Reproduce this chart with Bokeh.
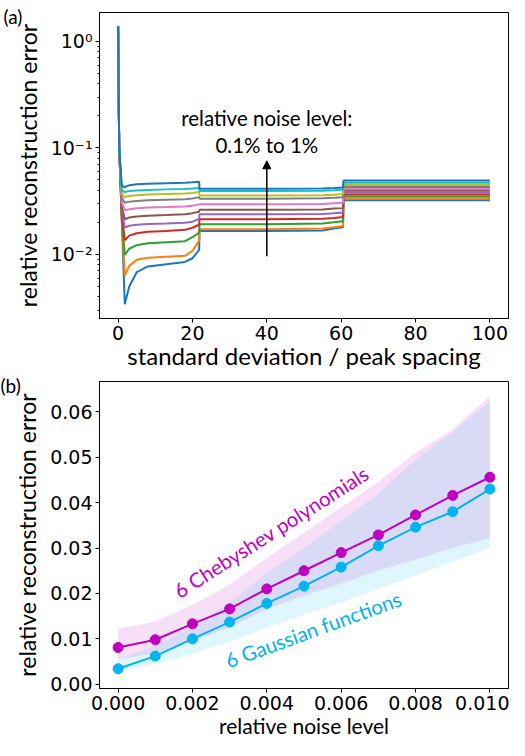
from bokeh.plotting import figure
from bokeh.layouts import column
from bokeh.models import FixedTicker, Label, Arrow, NormalHead, PrintfTickFormatter, Range1d, Title
from bokeh.embed import file_html
from bokeh.resources import INLINE

# ---------------- panel (a) data ----------------
sd_spacing = [0, 0.3, 1.0, 1.8, 3, 5, 8, 13, 18, 20, 21.8, 21.9, 40, 55, 58, 60.5, 60.6, 100]
err_n0 = [1.4, 0.10, 0.021, 0.0034, 0.0050, 0.0068, 0.0077, 0.0081, 0.0085, 0.0092, 0.0110, 0.0166, 0.0166, 0.0168, 0.0175, 0.0180, 0.0322, 0.0322]
err_n1 = [1.4, 0.10, 0.021, 0.0063, 0.0078, 0.0089, 0.0093, 0.0095, 0.0097, 0.0108, 0.0135, 0.0172, 0.0172, 0.0175, 0.0180, 0.0185, 0.0335, 0.0335]
err_n2 = [1.4, 0.10, 0.022, 0.0099, 0.0113, 0.0122, 0.0127, 0.0130, 0.0133, 0.0145, 0.0160, 0.0192, 0.0192, 0.0195, 0.0200, 0.0205, 0.0350, 0.0350]
err_n3 = [1.4, 0.10, 0.024, 0.0136, 0.0150, 0.0158, 0.0163, 0.0166, 0.0170, 0.0178, 0.0190, 0.0214, 0.0214, 0.0216, 0.0220, 0.0225, 0.0365, 0.0365]
err_n4 = [1.4, 0.10, 0.026, 0.0179, 0.0186, 0.0190, 0.0193, 0.0195, 0.0198, 0.0203, 0.0215, 0.0238, 0.0238, 0.0240, 0.0244, 0.0248, 0.0380, 0.0380]
err_n5 = [1.4, 0.10, 0.028, 0.0214, 0.0222, 0.0227, 0.0231, 0.0234, 0.0238, 0.0244, 0.0252, 0.0262, 0.0262, 0.0264, 0.0270, 0.0272, 0.0395, 0.0395]
err_n6 = [1.4, 0.10, 0.031, 0.0260, 0.0266, 0.0271, 0.0275, 0.0278, 0.0282, 0.0287, 0.0295, 0.0295, 0.0295, 0.0297, 0.0302, 0.0306, 0.0412, 0.0412]
err_n7 = [1.4, 0.10, 0.034, 0.0306, 0.0313, 0.0318, 0.0322, 0.0326, 0.0330, 0.0335, 0.0345, 0.0334, 0.0334, 0.0336, 0.0340, 0.0345, 0.0430, 0.0430]
err_n8 = [1.4, 0.10, 0.037, 0.0346, 0.0354, 0.0360, 0.0365, 0.0370, 0.0374, 0.0378, 0.0385, 0.0358, 0.0358, 0.0360, 0.0364, 0.0370, 0.0448, 0.0448]
err_n9 = [1.4, 0.10, 0.040, 0.0385, 0.0393, 0.0398, 0.0403, 0.0408, 0.0412, 0.0416, 0.0420, 0.0394, 0.0394, 0.0396, 0.0400, 0.0405, 0.0470, 0.0470]
err_n10 = [1.4, 0.10, 0.044, 0.0430, 0.0445, 0.0455, 0.0460, 0.0465, 0.0470, 0.0475, 0.0480, 0.0414, 0.0414, 0.0416, 0.0420, 0.0425, 0.0495, 0.0495]
curves_a = [err_n0, err_n1, err_n2, err_n3, err_n4, err_n5, err_n6, err_n7, err_n8, err_n9, err_n10]
tab10 = ["#1f77b4", "#ff7f0e", "#2ca02c", "#d62728", "#9467bd", "#8c564b",
         "#e377c2", "#7f7f7f", "#bcbd22", "#17becf", "#1f77b4"]
xticks_a = [0, 20, 40, 60, 80, 100]

# ---------------- panel (b) data ----------------
noise = [0.000, 0.001, 0.002, 0.003, 0.004, 0.005, 0.006, 0.007, 0.008, 0.009, 0.010]
cheb_mean = [0.0081, 0.0098, 0.0133, 0.0166, 0.0210, 0.0250, 0.0290, 0.0329, 0.0373, 0.0416, 0.0456]
cheb_hi = [0.0122, 0.0138, 0.0175, 0.0220, 0.0278, 0.0334, 0.0390, 0.0446, 0.0510, 0.0562, 0.0635]
cheb_lo = [0.0055, 0.0068, 0.0095, 0.0125, 0.0165, 0.0195, 0.0222, 0.0250, 0.0275, 0.0300, 0.0322]
gauss_mean = [0.0034, 0.0062, 0.0100, 0.0137, 0.0178, 0.0216, 0.0258, 0.0305, 0.0346, 0.0380, 0.0430]
gauss_hi = [0.0055, 0.0085, 0.0125, 0.0180, 0.0245, 0.0300, 0.0360, 0.0420, 0.0495, 0.0556, 0.0623]
gauss_lo = [0.0028, 0.0044, 0.0067, 0.0093, 0.0125, 0.0153, 0.0180, 0.0210, 0.0240, 0.0270, 0.0300]
xticks_b = [0.000, 0.002, 0.004, 0.006, 0.008, 0.010]
yticks_b = [0.00, 0.01, 0.02, 0.03, 0.04, 0.05, 0.06]

TICK_FONT = "DejaVu Sans"
LABEL_FONT = "Lato"
MAGENTA = "#BF00BF"
CYAN = "#00B4F0"


def style(p):
    p.grid.visible = False
    p.outline_line_color = "black"
    p.outline_line_width = 1
    for ax in p.axis:
        ax.axis_line_color = "black"
        ax.major_tick_out = 4
        ax.major_tick_in = 0
        ax.minor_tick_out = 2
        ax.minor_tick_in = 0
        ax.major_tick_line_color = "black"
        ax.minor_tick_line_color = "black"
        ax.major_label_text_font = TICK_FONT
        ax.major_label_text_font_size = "19px"
        ax.major_label_text_color = "black"
        ax.axis_label_text_font = LABEL_FONT
        ax.axis_label_text_font_size = "23px"
        ax.axis_label_text_font_style = "normal"
        ax.axis_label_text_color = "black"
        ax.major_label_standoff = 3


def panel_tag(p, text, offset):
    p.add_layout(Title(text=text, align="left", vertical_align="bottom", offset=offset,
                       standoff=-30, text_font=LABEL_FONT, text_font_size="19px",
                       text_font_style="normal", text_color="black"), "above")


# ---------------- panel (a) ----------------
p1 = figure(width=509, height=372, y_axis_type="log",
            x_range=Range1d(-5, 105), y_range=Range1d(0.0025, 1.87),
            output_backend="svg", toolbar_location=None,
            min_border_left=96, min_border_right=1, min_border_top=12, min_border_bottom=10)
style(p1)
p1.xaxis.axis_label_text_font_size = "24px"
for ys, c in zip(curves_a, tab10):
    p1.line(sd_spacing, ys, line_color=c, line_width=2)

p1.xaxis.ticker = FixedTicker(ticks=xticks_a)
p1.xaxis.minor_tick_line_color = None
minor_a = [m * 10.0 ** e for e in (-3, -2, -1, 0) for m in range(2, 10)]
p1.yaxis.ticker = FixedTicker(ticks=[0.01, 0.1, 1.0], minor_ticks=minor_a)
p1.yaxis.major_label_overrides = {0.01: "10⁻²", 0.1: "10⁻¹", 1.0: "10⁰"}
p1.xaxis.axis_label = "standard deviation / peak spacing"
p1.yaxis.axis_label = "relative reconstruction error"
p1.xaxis.axis_label_standoff = -2
p1.yaxis.axis_label_standoff = 6

p1.add_layout(Arrow(end=NormalHead(size=8, fill_color="black", line_color="black"),
                    x_start=40, y_start=0.0096, x_end=40, y_end=0.0757,
                    line_color="black", line_width=1.5))
p1.add_layout(Label(x=40, y=0.19, text="relative noise level:", text_align="center",
                    text_baseline="middle", text_font=LABEL_FONT, text_font_size="20.5px",
                    text_color="black"))
p1.add_layout(Label(x=40, y=0.107, text="0.1% to 1%", text_align="center",
                    text_baseline="middle", text_font=LABEL_FONT, text_font_size="20.5px",
                    text_color="black"))
panel_tag(p1, "(a)", -96)

# ---------------- panel (b) ----------------
p2 = figure(width=509, height=368,
            x_range=Range1d(-0.0005, 0.0105), y_range=Range1d(-0.00094, 0.0667),
            output_backend="svg", toolbar_location=None,
            min_border_left=99, min_border_right=1, min_border_top=9, min_border_bottom=10)
style(p2)
p2.xaxis.axis_label_text_font_size = "21px"
p2.varea(x=noise, y1=cheb_lo, y2=cheb_hi, fill_color=MAGENTA, fill_alpha=0.12)
p2.varea(x=noise, y1=gauss_lo, y2=gauss_hi, fill_color=CYAN, fill_alpha=0.12)
p2.line(noise, cheb_mean, line_color=MAGENTA, line_width=2)
p2.scatter(noise, cheb_mean, size=10, fill_color=MAGENTA, line_color=MAGENTA)
p2.line(noise, gauss_mean, line_color=CYAN, line_width=2)
p2.scatter(noise, gauss_mean, size=10, fill_color=CYAN, line_color=CYAN)

p2.xaxis.ticker = FixedTicker(ticks=xticks_b)
p2.yaxis.ticker = FixedTicker(ticks=yticks_b)
p2.xaxis.minor_tick_line_color = None
p2.yaxis.minor_tick_line_color = None
p2.xaxis.formatter = PrintfTickFormatter(format="%.3f")
p2.yaxis.formatter = PrintfTickFormatter(format="%.2f")
p2.xaxis.axis_label = "relative noise level"
p2.yaxis.axis_label = "relative reconstruction error"
p2.xaxis.axis_label_standoff = 0
p2.yaxis.axis_label_standoff = 6

p2.add_layout(Label(x=0.00155, y=0.0202, text="6 Chebyshev polynomials", angle=0.567,
                    text_align="left", text_baseline="alphabetic", text_font=LABEL_FONT,
                    text_font_size="20.3px", text_color="#C000C0"))
p2.add_layout(Label(x=0.0029, y=0.0051, text="6 Gaussian functions", angle=0.349,
                    text_align="left", text_baseline="alphabetic", text_font=LABEL_FONT,
                    text_font_size="20.3px", text_color="#00B0F0"))
panel_tag(p2, "(b)", -99)

layout = column(p1, p2, spacing=0)
open("out.html", "w").write(file_html(layout, INLINE))
